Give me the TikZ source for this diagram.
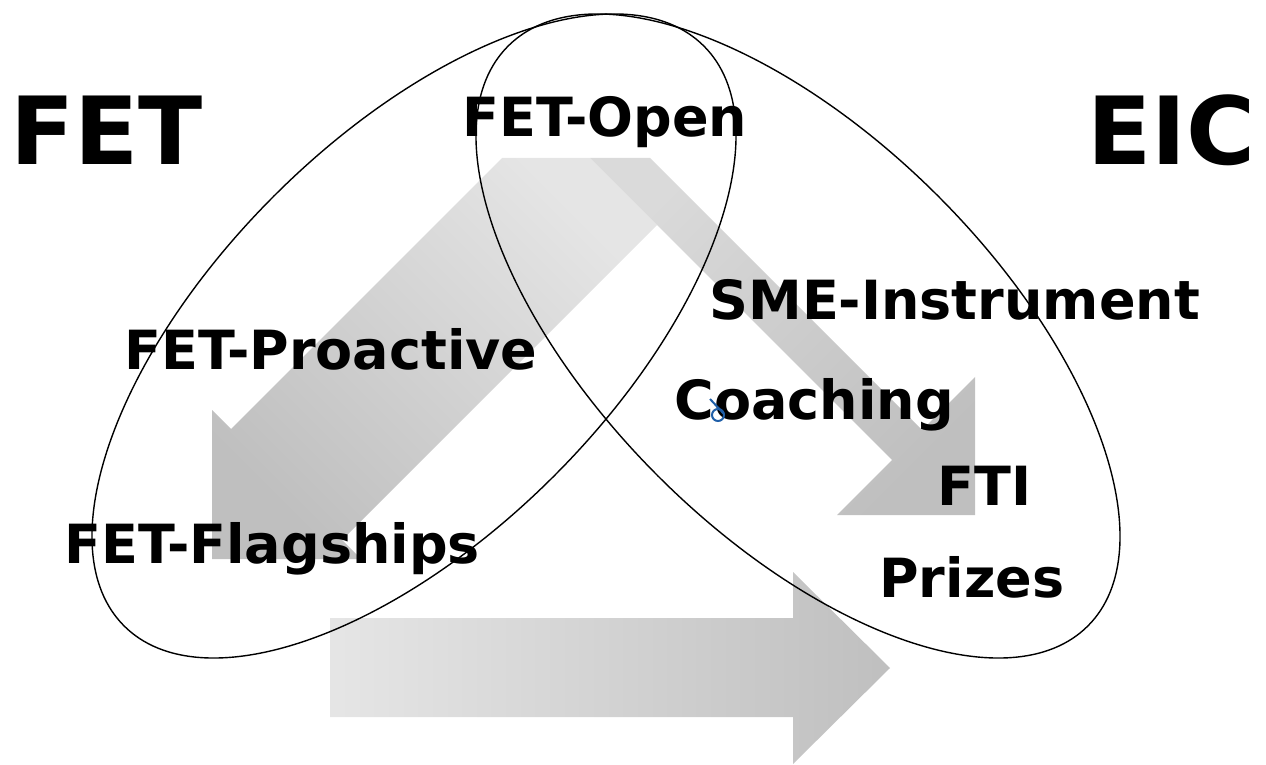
\documentclass[tikz,border=0pt]{standalone}
\usepackage{fontspec}
\setsansfont{DejaVu Sans}
\definecolor{arrowlight}{gray}{0.9}
\definecolor{arrowdark}{gray}{0.75}
\definecolor{anchorblue}{HTML}{1F5FA8}

\begin{document}
\begin{tikzpicture}[
  x=0.5pt, y=-0.5pt,
  bigword/.style={font=\sffamily\bfseries\fontsize{47}{56}\selectfont, inner sep=0pt, anchor=base west},
  entry/.style={font=\sffamily\bfseries\fontsize{27}{32}\selectfont, inner sep=0pt, anchor=base west},
  outline/.style={draw=black, line width=0.7pt}
]
\useasboundingbox (0,0) rectangle (1266,765);

% Arrows
\shade[top color=arrowlight, bottom color=arrowdark, shading angle=-45]
  (502,158) -- (590,158) -- (657,225) -- (342,540) -- (361,559) -- (212,559) -- (212,410) -- (231,429) -- cycle;
\shade[top color=arrowlight!95!black, bottom color=arrowdark, shading angle=45]
  (590,158) -- (650,158) -- (922,430) -- (975,377) -- (975,515) -- (837,515) -- (892,460) -- cycle;
\shade[left color=arrowlight, right color=arrowdark]
  (330,618) -- (793,618) -- (793,572) -- (890,668) -- (793,764) -- (793,717) -- (330,717) -- cycle;

% FET and EIC sets
\coordinate (fetc) at (414,336);
\coordinate (eicc) at (798,336);
\draw[outline, rotate around={45:(fetc)}] (fetc) ellipse [x radius=410, y radius=198];
\draw[outline, rotate around={-45:(eicc)}] (eicc) ellipse [x radius=410, y radius=198];

% Labels
\node[bigword] (fet) at (10,165) {FET};
\node[bigword] (eic) at (1087,165) {EIC};
\node[entry] (open) at (462,137) {FET-Open};
\node[entry] (proactive) at (124,370) {FET-Proactive};
\node[entry] (flagships) at (64,563) {FET-Flagships};
\node[entry] (sme) at (709,320) {SME-Instrument};
\node[entry] (coaching) at (674,420) {Coaching};
\node[entry] (fti) at (937,505) {FTI};
\node[entry] (prizes) at (879,597) {Prizes};

% Anchor mark
\draw[anchorblue, line width=1pt] (710,399) -- (724,414);
\draw[anchorblue, line width=1pt] (718,415) circle[radius=6];
\end{tikzpicture}
\end{document}
